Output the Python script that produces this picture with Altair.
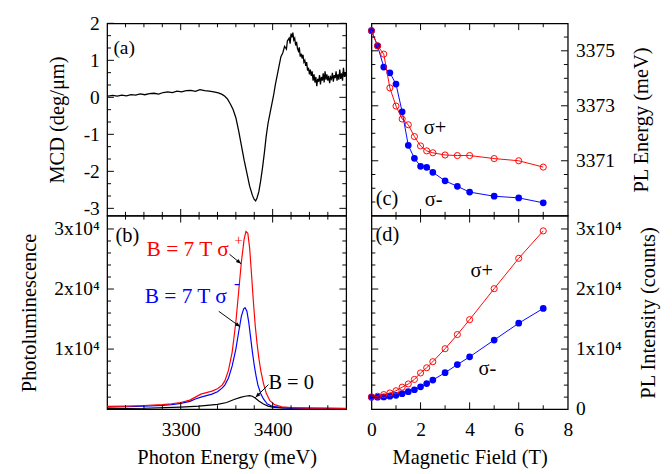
import math
import altair as alt
import pandas as pd

FONT = "Liberation Serif"
LW, RW = 246, 202          # plot widths (left / right column)
TH, BH = 198, 199          # plot heights (top / bottom row)

# ---------------- (a) MCD ----------------
mcd_energy = [3221, 3226, 3231, 3236, 3241, 3246, 3251, 3256, 3261, 3266, 3271, 3276, 3281,
              3286, 3291, 3296, 3301, 3306, 3311, 3316, 3321, 3326, 3331, 3336, 3341, 3345,
              3348, 3351, 3354, 3357, 3360, 3363, 3366, 3369, 3372, 3375, 3378, 3380, 3381.5,
              3383, 3385, 3387, 3389, 3391, 3393, 3395, 3397, 3399, 3401, 3403, 3405, 3407,
              3409, 3411, 3413, 3415, 3416, 3418, 3419, 3420, 3421, 3422, 3423, 3424, 3425,
              3426, 3427, 3428, 3429, 3430, 3431, 3432, 3433, 3434, 3435, 3436, 3437, 3438,
              3439, 3440, 3441, 3442, 3443, 3444, 3445, 3446, 3447, 3448, 3449, 3450, 3451,
              3452, 3453, 3454, 3455, 3456, 3457, 3458, 3459, 3460, 3461, 3462, 3463, 3464,
              3465, 3466, 3467, 3468, 3469, 3470, 3471, 3472, 3473, 3474, 3475, 3476, 3477,
              3478, 3479, 3480]
mcd_value = [0.03, 0.05, 0.03, 0.06, 0.04, 0.07, 0.06, 0.09, 0.07, 0.10, 0.11, 0.09, 0.13,
             0.15, 0.13, 0.17, 0.15, 0.18, 0.19, 0.16, 0.21, 0.18, 0.17, 0.15, 0.12, 0.08,
             0.03, -0.05, -0.18, -0.33, -0.55, -0.90, -1.30, -1.70, -2.05, -2.40, -2.65, -2.76, -2.80,
             -2.72, -2.55, -2.25, -1.90, -1.50, -1.05, -0.70, -0.45, -0.20, 0.05, 0.35, 0.60, 0.85,
             1.10, 1.20, 1.38, 1.30, 1.52, 1.60, 1.45, 1.72, 1.62, 1.75, 1.55, 1.60, 1.40,
             1.50, 1.32, 1.25, 1.35, 1.10, 1.18, 1.05, 1.15, 0.95, 1.00, 0.85, 0.95, 0.72,
             0.80, 0.62, 0.75, 0.58, 0.70, 0.45, 0.62, 0.40, 0.55, 0.30, 0.50, 0.42, 0.60,
             0.35, 0.55, 0.45, 0.65, 0.40, 0.70, 0.48, 0.62, 0.45, 0.58, 0.38, 0.55, 0.50,
             0.66, 0.42, 0.60, 0.52, 0.70, 0.45, 0.62, 0.48, 0.75, 0.50, 0.65, 0.45, 0.80,
             0.55, 0.68, 0.55]

# ---------------- (b) Photoluminescence ----------------
pl_energy_plus = [3220, 3240, 3260, 3280, 3290, 3300, 3310, 3316, 3322, 3328, 3334, 3340, 3345,
                  3348, 3352, 3356, 3360, 3363, 3366, 3369, 3371, 3373, 3375, 3377, 3379, 3381,
                  3383, 3385, 3387, 3390, 3393, 3397, 3402, 3410, 3420, 3440, 3460, 3480]
pl_plus = [450, 500, 600, 750, 900, 1100, 1500, 2000, 2500, 2750, 3000, 3400, 4000,
           4700, 6500, 9500, 14500, 19500, 24500, 28300, 29600, 29300, 26800, 22500, 18000, 14000,
           11000, 8500, 6500, 4300, 2700, 1400, 750, 400, 250, 180, 150, 130]
pl_energy_minus = [3220, 3240, 3260, 3280, 3290, 3300, 3310, 3316, 3322, 3328, 3334, 3340, 3345,
                   3348, 3352, 3356, 3360, 3363, 3366, 3368.5, 3370, 3372, 3374, 3376, 3378, 3380,
                   3382, 3384, 3387, 3390, 3394, 3400, 3410, 3420, 3440, 3460, 3480]
pl_minus = [350, 400, 480, 620, 750, 950, 1300, 1700, 2000, 2250, 2500, 2900, 3500,
            4000, 5200, 7200, 10000, 12800, 15500, 16700, 16900, 16300, 14500, 12000, 9500, 7300,
            5500, 4000, 2600, 1700, 900, 450, 250, 180, 140, 120, 110]
pl_energy_zero = [3220, 3260, 3300, 3320, 3340, 3350, 3358, 3365, 3370, 3375, 3378, 3381, 3385,
                  3390, 3395, 3400, 3410, 3430, 3480]
pl_zero = [100, 150, 350, 500, 800, 1100, 1600, 1950, 2150, 2250, 2150, 1850, 1350,
           850, 500, 330, 200, 120, 80]

# ---------------- (c), (d) vs magnetic field ----------------
field_T = [0, 0.25, 0.5, 0.75, 1, 1.25, 1.5, 1.75, 2, 2.25, 2.5, 3, 3.5, 4, 5, 6, 7]
energy_plus = [3375.73, 3375.18, 3374.88, 3373.65, 3372.99, 3372.52, 3372.31, 3371.88, 3371.54,
               3371.36, 3371.29, 3371.21, 3371.19, 3371.19, 3371.08, 3371.00, 3370.77]
energy_minus = [3375.73, 3375.18, 3374.41, 3374.20, 3373.79, 3372.78, 3371.56, 3371.09, 3370.80,
                3370.76, 3370.58, 3370.27, 3370.07, 3369.86, 3369.71, 3369.65, 3369.47]
intensity_plus = [2040, 2150, 2420, 2690, 3060, 3660, 4190, 4950, 6030, 6890, 7900, 10060,
                  12420, 14900, 20060, 25110, 29680]
intensity_minus = [1990, 1990, 2040, 2150, 2310, 2580, 2900, 3230, 3710, 4250, 4840, 6080,
                   7420, 8710, 11510, 14310, 16770]

# ---------------- ticks ----------------
e_ticks_major = [3300, 3400]
e_ticks_minor = [3240, 3260, 3280, 3320, 3340, 3360, 3380, 3420, 3440, 3460]
mcd_ticks_major = [-3, -2, -1, 0, 1, 2]
mcd_ticks_minor = [-2.6667, -2.3333, -1.6667, -1.3333, -0.6667, -0.3333,
                   0.3333, 0.6667, 1.3333, 1.6667]
pl_ticks_major = [10000, 20000, 30000]
pl_ticks_minor = [2000, 4000, 6000, 8000, 12000, 14000, 16000, 18000, 22000, 24000, 26000, 28000]
b_ticks_major = [2, 4, 6]
b_ticks_minor = [1, 3, 5, 7]
ple_ticks_major = [3371, 3373, 3375]
ple_ticks_minor = [3369.5, 3370, 3370.5, 3371.5, 3372, 3372.5, 3373.5, 3374, 3374.5, 3375.5]

# ---------------- annotations ----------------
ann_a = pd.DataFrame({"E": [3226.8], "MCD": [1.18], "label": ["(a)"]})
ann_b_black = pd.DataFrame({"E": [3229, 3395.4], "PL": [27800, 3390], "label": ["(b)", "B = 0"]})
ann_b_red = pd.DataFrame({"E": [3262.9], "PL": [25480], "label": ["B = 7 T σ"]})
ann_b_red_sup = pd.DataFrame({"E": [3358.5], "PL": [27400], "label": ["+"]})
ann_b_blue = pd.DataFrame({"E": [3260.8], "PL": [17740], "label": ["B = 7 T σ"]})
ann_b_blue_sup = pd.DataFrame({"E": [3358.0], "PL": [20000], "label": ["-"]})
arrow_tail_E = [3353.0, 3341.4, 3395.4]
arrow_tail_PL = [25800, 16290, 4080]
arrow_tip_E = [3365.7, 3364.7, 3381.3]
arrow_tip_PL = [24190, 13710, 1935]
ann_c = pd.DataFrame({"B": [0.17, 2.13, 2.17], "Epl": [3369.39, 3371.96, 3369.34],
                      "label": ["(c)", "σ+", "σ-"]})
ann_d = pd.DataFrame({"B": [0.16, 4.04, 4.36], "I": [27930, 22050, 5690],
                      "label": ["(d)", "σ+", "σ-"]})

# ---------------- scales & axes ----------------
E_DOM = [3220, 3480]
PL_DOM = [0, 32200]
sx_e = alt.Scale(domain=E_DOM, nice=False, zero=False)
sy_mcd = alt.Scale(domain=[-3.2, 2], nice=False, zero=False)
sy_pl = alt.Scale(domain=PL_DOM, nice=False)
sx_b = alt.Scale(domain=[0, 8], nice=False)
sy_ple = alt.Scale(domain=[3369, 3376], nice=False, zero=False)
sy_i = alt.Scale(domain=PL_DOM, nice=False)

ax_mcd = alt.Axis(values=mcd_ticks_major, labelExpr="'' + datum.value",
                  title="MCD (deg/μm)", titlePadding=16)
ax_pl = alt.Axis(values=pl_ticks_major, labelExpr="(datum.value / 10000) + 'x10⁴'",
                 title="Photoluminescence", titlePadding=15)
ax_e = alt.Axis(values=e_ticks_major, format="d", title="Photon Energy (meV)",
                labelPadding=11, titlePadding=8)
ax_ple = alt.Axis(orient="right", values=ple_ticks_major, format="d",
                  title="PL Energy (meV)", titleAngle=270, titleBaseline="top", titlePadding=17)
ax_i = alt.Axis(orient="right", values=[0] + pl_ticks_major,
                labelExpr="datum.value == 0 ? '0' : (datum.value / 10000) + 'x10⁴'",
                title="PL Intensity (counts)", titleAngle=270, titleBaseline="top", titlePadding=17)
ax_b = alt.Axis(values=[0, 2, 4, 6, 8], format="d", title="Magnetic Field (T)",
                labelPadding=11, titlePadding=8)


def X(name, scale, axis):
    return alt.X(f"{name}:Q", scale=scale, axis=axis)


def Y(name, scale, axis):
    return alt.Y(f"{name}:Q", scale=scale, axis=axis)


def tick_layers(xn, yn, xs, ys, xax, yax, w, h, xmaj, xmin, ymaj, ymin):
    out = []
    for vals, L in ((xmaj, 7), (xmin, 4)):
        d = pd.DataFrame({xn: vals})
        for y0, y1 in ((0, L), (h, h - L)):
            out.append(alt.Chart(d).mark_rule(color="black", strokeWidth=1).encode(
                x=X(xn, xs, xax), y=alt.value(y0), y2=alt.value(y1)))
    for vals, L in ((ymaj, 7), (ymin, 4)):
        d = pd.DataFrame({yn: vals})
        for x0, x1 in ((0, L), (w, w - L)):
            out.append(alt.Chart(d).mark_rule(color="black", strokeWidth=1).encode(
                y=Y(yn, ys, yax), x=alt.value(x0), x2=alt.value(x1)))
    return out


def text_layer(df, xn, yn, xs, ys, xax, yax, size, color):
    return alt.Chart(df).mark_text(font=FONT, fontSize=size, color=color, align="left",
                                   baseline="alphabetic").encode(
        x=X(xn, xs, xax), y=Y(yn, ys, yax), text="label:N")


# ---------------- panel (a) ----------------
df_mcd = pd.DataFrame({"E": mcd_energy, "MCD": mcd_value})
layers_a = [alt.Chart(df_mcd).mark_line(color="black", strokeWidth=1.3).encode(
    x=X("E", sx_e, None), y=Y("MCD", sy_mcd, ax_mcd))]
layers_a += tick_layers("E", "MCD", sx_e, sy_mcd, None, ax_mcd, LW, TH,
                        e_ticks_major, e_ticks_minor, mcd_ticks_major, mcd_ticks_minor)
layers_a.append(text_layer(ann_a, "E", "MCD", sx_e, sy_mcd, None, ax_mcd, 20, "black"))
panel_a = alt.layer(*layers_a).properties(width=LW, height=TH)

# ---------------- panel (b) ----------------
df_zero = pd.DataFrame({"E": pl_energy_zero, "PL": pl_zero})
df_minus = pd.DataFrame({"E": pl_energy_minus, "PL": pl_minus})
df_plus = pd.DataFrame({"E": pl_energy_plus, "PL": pl_plus})
layers_b = []
for d, c in ((df_zero, "black"), (df_minus, "#0000ff"), (df_plus, "#ff0000")):
    layers_b.append(alt.Chart(d).mark_line(color=c, strokeWidth=1.2).encode(
        x=X("E", sx_e, ax_e), y=Y("PL", sy_pl, ax_pl)))
layers_b += tick_layers("E", "PL", sx_e, sy_pl, ax_e, ax_pl, LW, BH,
                        e_ticks_major, e_ticks_minor, pl_ticks_major, pl_ticks_minor)
# arrows
px_per_e = LW / (E_DOM[1] - E_DOM[0])
px_per_pl = BH / (PL_DOM[1] - PL_DOM[0])
angles = []
for e1, p1, e2, p2 in zip(arrow_tail_E, arrow_tail_PL, arrow_tip_E, arrow_tip_PL):
    dx = (e2 - e1) * px_per_e
    dy = -(p2 - p1) * px_per_pl
    angles.append(math.degrees(math.atan2(dx, -dy)) % 360)
df_arrows = pd.DataFrame({"E": arrow_tail_E, "PL": arrow_tail_PL,
                          "E2": arrow_tip_E, "PL2": arrow_tip_PL})
df_heads = pd.DataFrame({"E": arrow_tip_E, "PL": arrow_tip_PL, "ang": angles})
layers_b.append(alt.Chart(df_arrows).mark_rule(color="black", strokeWidth=1).encode(
    x=X("E", sx_e, ax_e), y=Y("PL", sy_pl, ax_pl), x2="E2:Q", y2="PL2:Q"))
layers_b.append(alt.Chart(df_heads).mark_point(
    shape="M0,0L-0.38,1L0.38,1Z", filled=True, color="black", opacity=1, size=110).encode(
    x=X("E", sx_e, ax_e), y=Y("PL", sy_pl, ax_pl), angle=alt.Angle("ang:Q", scale=None)))
layers_b.append(text_layer(ann_b_black, "E", "PL", sx_e, sy_pl, ax_e, ax_pl, 21, "black"))
layers_b.append(text_layer(ann_b_red, "E", "PL", sx_e, sy_pl, ax_e, ax_pl, 22, "#ff0000"))
layers_b.append(text_layer(ann_b_red_sup, "E", "PL", sx_e, sy_pl, ax_e, ax_pl, 15, "#ff0000"))
layers_b.append(text_layer(ann_b_blue, "E", "PL", sx_e, sy_pl, ax_e, ax_pl, 22, "#0000ff"))
layers_b.append(text_layer(ann_b_blue_sup, "E", "PL", sx_e, sy_pl, ax_e, ax_pl, 18, "#0000ff"))
panel_b = alt.layer(*layers_b).properties(width=LW, height=BH)

# ---------------- panel (c) ----------------
df_cm = pd.DataFrame({"B": field_T, "Epl": energy_minus})
df_cp = pd.DataFrame({"B": field_T, "Epl": energy_plus})
layers_c = [
    alt.Chart(df_cm).mark_line(color="#0000ff", strokeWidth=1).encode(
        x=X("B", sx_b, None), y=Y("Epl", sy_ple, ax_ple)),
    alt.Chart(df_cm).mark_circle(color="#0000ff", opacity=1, size=48).encode(
        x=X("B", sx_b, None), y=Y("Epl", sy_ple, ax_ple)),
    alt.Chart(df_cp).mark_line(color="#ff0000", strokeWidth=1).encode(
        x=X("B", sx_b, None), y=Y("Epl", sy_ple, ax_ple)),
    alt.Chart(df_cp).mark_point(shape="circle", filled=False, color="#ff0000", opacity=1,
                                size=40, strokeWidth=1).encode(
        x=X("B", sx_b, None), y=Y("Epl", sy_ple, ax_ple)),
]
layers_c += tick_layers("B", "Epl", sx_b, sy_ple, None, ax_ple, RW, TH,
                        b_ticks_major, b_ticks_minor, ple_ticks_major, ple_ticks_minor)
layers_c.append(text_layer(ann_c, "B", "Epl", sx_b, sy_ple, None, ax_ple, 21, "black"))
panel_c = alt.layer(*layers_c).properties(width=RW, height=TH)

# ---------------- panel (d) ----------------
df_dm = pd.DataFrame({"B": field_T, "I": intensity_minus})
df_dp = pd.DataFrame({"B": field_T, "I": intensity_plus})
layers_d = [
    alt.Chart(df_dm).mark_line(color="#0000ff", strokeWidth=1).encode(
        x=X("B", sx_b, ax_b), y=Y("I", sy_i, ax_i)),
    alt.Chart(df_dm).mark_circle(color="#0000ff", opacity=1, size=48).encode(
        x=X("B", sx_b, ax_b), y=Y("I", sy_i, ax_i)),
    alt.Chart(df_dp).mark_line(color="#ff0000", strokeWidth=1).encode(
        x=X("B", sx_b, ax_b), y=Y("I", sy_i, ax_i)),
    alt.Chart(df_dp).mark_point(shape="circle", filled=False, color="#ff0000", opacity=1,
                                size=40, strokeWidth=1).encode(
        x=X("B", sx_b, ax_b), y=Y("I", sy_i, ax_i)),
]
layers_d += tick_layers("B", "I", sx_b, sy_i, ax_b, ax_i, RW, BH,
                        b_ticks_major, b_ticks_minor, pl_ticks_major, pl_ticks_minor)
layers_d.append(text_layer(ann_d, "B", "I", sx_b, sy_i, ax_b, ax_i, 21, "black"))
panel_d = alt.layer(*layers_d).properties(width=RW, height=BH)

left = alt.vconcat(panel_a, panel_b, spacing=0, bounds="flush")
right = alt.vconcat(panel_c, panel_d, spacing=0, bounds="flush")
chart = alt.hconcat(left, right, spacing=16).properties(
    padding={"left": 10, "right": 5, "top": -2, "bottom": 0}
).configure_view(
    stroke="black", strokeWidth=1.3
).configure_axis(
    labelFont=FONT, labelFontSize=20, labelColor="black",
    titleFont=FONT, titleFontSize=21, titleFontWeight="normal", titleColor="black",
    ticks=False, domain=False, grid=False, labelPadding=8,
    labelOverlap=False, labelFlush=False,
)

chart.save("out.html", embed_options={"renderer": "svg", "actions": False})
